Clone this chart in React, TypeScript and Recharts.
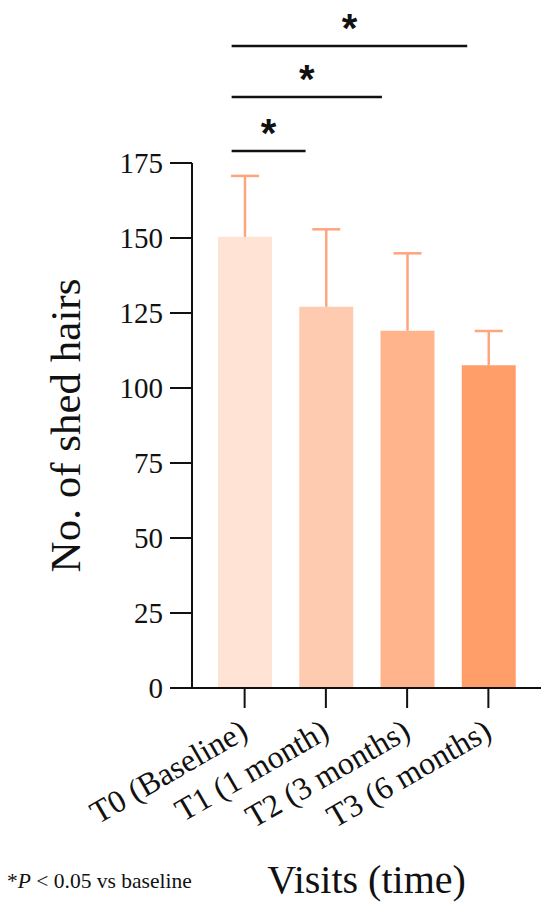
import React from 'react';
import { BarChart, Bar, XAxis, YAxis, Cell, ReferenceLine } from 'recharts';

const visits = ['T0 (Baseline)', 'T1 (1 month)', 'T2 (3 months)', 'T3 (6 months)'];
const meanHairs = [150.4, 127.1, 119.1, 107.6];
const sdHairs = [20.3, 25.8, 25.8, 11.4];
const barColors = ['#FFE4D6', '#FFCBB0', '#FFB48C', '#FF9E68'];
const yTicks = [0, 25, 50, 75, 100, 125, 150, 175];

// significance brackets vs baseline, x in bar-index units (hidden numeric axis)
const sigFrom = [-0.16, -0.16, -0.16];
const sigTo = [0.75, 1.69, 2.74];
const sigLevel = [179, 197, 214];

const data = visits.map((visit, i) => ({ visit, idx: i, mean: meanHairs[i], sd: sdHairs[i] }));

const serif = "'Times New Roman', 'Liberation Serif', serif";
const whiskerColor = '#FFA57C';

const Whisker = (props: any) => {
    const { x, y, width, height } = props;
    const cx = x + width / 2;
    return (
        <g>
            <line x1={cx} x2={cx} y1={y} y2={y + height} stroke={whiskerColor} strokeWidth={2.5} />
            <line x1={cx - 14} x2={cx + 14} y1={y} y2={y} stroke={whiskerColor} strokeWidth={2.5} />
        </g>
    );
};

const XTick = (props: any) => {
    const { x, y, payload } = props;
    const ax = x + 5;
    const ay = y + 27;
    return (
        <text x={ax} y={ay} transform={`rotate(-30 ${ax} ${ay})`} textAnchor="end"
            fontFamily={serif} fontSize={32} fill="#111">
            {payload.value}
        </text>
    );
};

const XLabel = (props: any) => {
    const vb = props.viewBox;
    return (
        <g>
            <text x={vb.x + vb.width / 2} y={vb.y + 205} textAnchor="middle" fontFamily={serif} fontSize={40} fill="#111">
                Visits (time)
            </text>
            <text x={7} y={vb.y + 200} fontFamily={serif} fontSize={21.5} fill="#111">
                *<tspan fontStyle="italic">P</tspan> &lt; 0.05 vs baseline
            </text>
        </g>
    );
};

const YLabel = (props: any) => {
    const vb = props.viewBox;
    const lx = vb.x + 80;
    const ly = vb.y + vb.height / 2;
    return (
        <text x={lx} y={ly} transform={`rotate(-90 ${lx} ${ly})`} textAnchor="middle"
            fontFamily={serif} fontSize={43} fill="#111">
            No. of shed hairs
        </text>
    );
};

const Star = (props: any) => {
    const vb = props.viewBox;
    return (
        <text x={vb.x + vb.width / 2} y={vb.y - 4} textAnchor="middle"
            fontFamily="'Liberation Sans', Arial, sans-serif" fontWeight="bold" fontSize={40} fill="#111">
            *
        </text>
    );
};

export default function App() {
    return (
        <div style={{ position: 'absolute', left: 0, top: 0, width: 550, height: 915, background: '#fff' }}>
            <BarChart width={550} height={915} data={data} margin={{ top: 163, right: 9, left: 0, bottom: 0 }}>
                <XAxis
                    dataKey="visit"
                    padding={{ left: 12, right: 12 }}
                    height={227}
                    interval={0}
                    tickSize={20}
                    tick={<XTick />}
                    axisLine={{ stroke: '#111', strokeWidth: 2 }}
                    tickLine={{ stroke: '#111', strokeWidth: 2 }}
                    label={<XLabel />}
                />
                <XAxis xAxisId="sig" type="number" dataKey="idx" domain={[-0.5, 3.5]} padding={{ left: 12, right: 12 }} hide allowDataOverflow />
                <YAxis
                    domain={[0, 175]}
                    ticks={yTicks}
                    width={192}
                    tickSize={22}
                    tickMargin={7}
                    tick={{ fontFamily: serif, fontSize: 29, fill: '#111' }}
                    axisLine={{ stroke: '#111', strokeWidth: 2 }}
                    tickLine={{ stroke: '#111', strokeWidth: 2 }}
                    label={<YLabel />}
                />
                <Bar dataKey="mean" stackId="a" barSize={54} isAnimationActive={false}>
                    {data.map((d, i) => (
                        <Cell key={d.visit} fill={barColors[i]} />
                    ))}
                </Bar>
                <Bar dataKey="sd" stackId="a" barSize={54} isAnimationActive={false} shape={<Whisker />} />
                {sigLevel.map((lv, i) => (
                    <ReferenceLine
                        key={i}
                        xAxisId="sig"
                        segment={[{ x: sigFrom[i], y: lv }, { x: sigTo[i], y: lv }]}
                        stroke="#111"
                        strokeWidth={2.5}
                        ifOverflow="visible"
                        label={<Star />}
                    />
                ))}
            </BarChart>
        </div>
    );
}
